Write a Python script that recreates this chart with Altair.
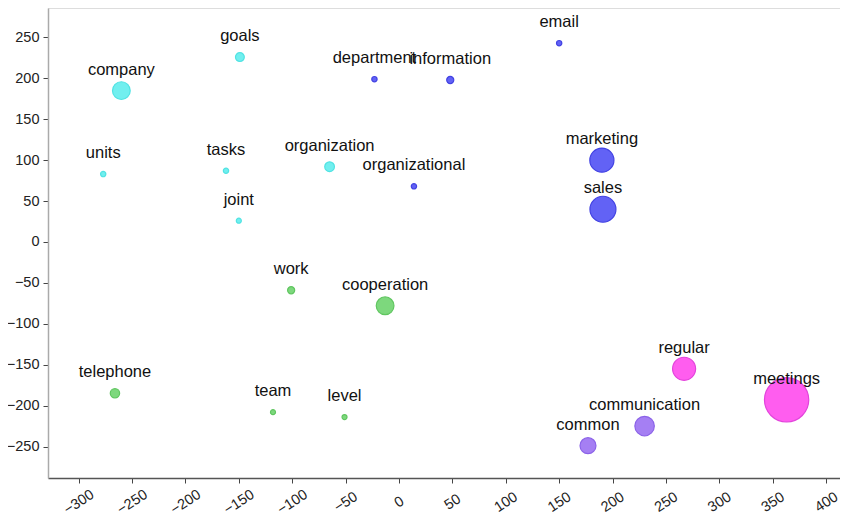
import altair as alt
import pandas as pd

words = ["company", "goals", "units", "tasks", "joint", "organization",
         "department", "information", "organizational", "email", "marketing", "sales",
         "work", "cooperation", "telephone", "team", "level",
         "regular", "meetings", "communication", "common"]
x_vals = [-260, -149, -277, -162, -150, -65,
          -23, 48, 14, 150, 190, 191,
          -101, -13, -266, -118, -51,
          267, 363, 230, 177]
y_vals = [185, 226, 83, 87, 26, 92,
          199, 198, 68, 243, 100, 40,
          -59, -78, -185, -208, -214,
          -155, -193, -225, -249]
weights = [100, 25, 9, 9, 8, 30,
           9, 16, 9, 9, 185, 215,
           16, 100, 28, 8, 8,
           169, 625, 121, 81]
clusters = ["c1", "c1", "c1", "c1", "c1", "c1",
            "c2", "c2", "c2", "c2", "c2", "c2",
            "c3", "c3", "c3", "c3", "c3",
            "c4", "c4", "c5", "c5"]
x_ticks = list(range(-300, 401, 50))
y_ticks = list(range(-250, 251, 50))

cluster_names = ["c1", "c2", "c3", "c4", "c5"]
fill_colors = ["#62eeee", "#5252f4", "#6fd46f", "#ff4cee", "#9c72f2"]
stroke_colors = ["#3fe0e0", "#2e2ee0", "#4fc04f", "#e02fd8", "#7f52e6"]

df = pd.DataFrame({"word": words, "x": x_vals, "y": y_vals,
                   "w": weights, "cluster": clusters})

xs = alt.Scale(domain=[-328.7, 413], nice=False, zero=False)
ys = alt.Scale(domain=[-288.5, 286], nice=False, zero=False)

base = alt.Chart(df)

points = base.mark_circle(opacity=0.9, strokeWidth=1.2).encode(
    x=alt.X("x:Q", scale=xs, axis=alt.Axis(
        values=x_ticks, title=None, grid=False, labelAngle=327,
        labelAlign="center", labelBaseline="middle", labelPadding=19,
        labelFont="Liberation Sans", labelFontSize=14.5, labelColor="#222",
        domainColor="#555", domainWidth=1.5, tickColor="#444", tickSize=5,
        labelFlush=False)),
    y=alt.Y("y:Q", scale=ys, axis=alt.Axis(
        values=y_ticks, title=None, grid=False,
        labelFont="Liberation Sans", labelFontSize=14.5, labelColor="#222",
        domainColor="#aaa", domainWidth=1.5, tickColor="#444", tickSize=5,
        labelPadding=4, labelFlush=False)),
    size=alt.Size("w:Q", scale=alt.Scale(domain=[0, 625], range=[0, 1963]), legend=None),
    color=alt.Color("cluster:N", scale=alt.Scale(domain=cluster_names, range=fill_colors), legend=None),
    stroke=alt.Stroke("cluster:N", scale=alt.Scale(domain=cluster_names, range=stroke_colors), legend=None),
)

labels = base.mark_text(dy=-21, baseline="middle", align="center",
                        font="Liberation Sans", fontSize=16.5, color="#111").encode(
    x=alt.X("x:Q", scale=xs),
    y=alt.Y("y:Q", scale=ys),
    text="word:N",
)

chart = (points + labels).properties(
    width=792, height=470,
    autosize=alt.AutoSizeParams(type="none"),
    padding={"left": 40, "top": 0, "right": 0, "bottom": 40},
).configure_view(stroke=None).configure(background="white")

chart.save("out.html", embed_options={"renderer": "svg", "actions": False})
